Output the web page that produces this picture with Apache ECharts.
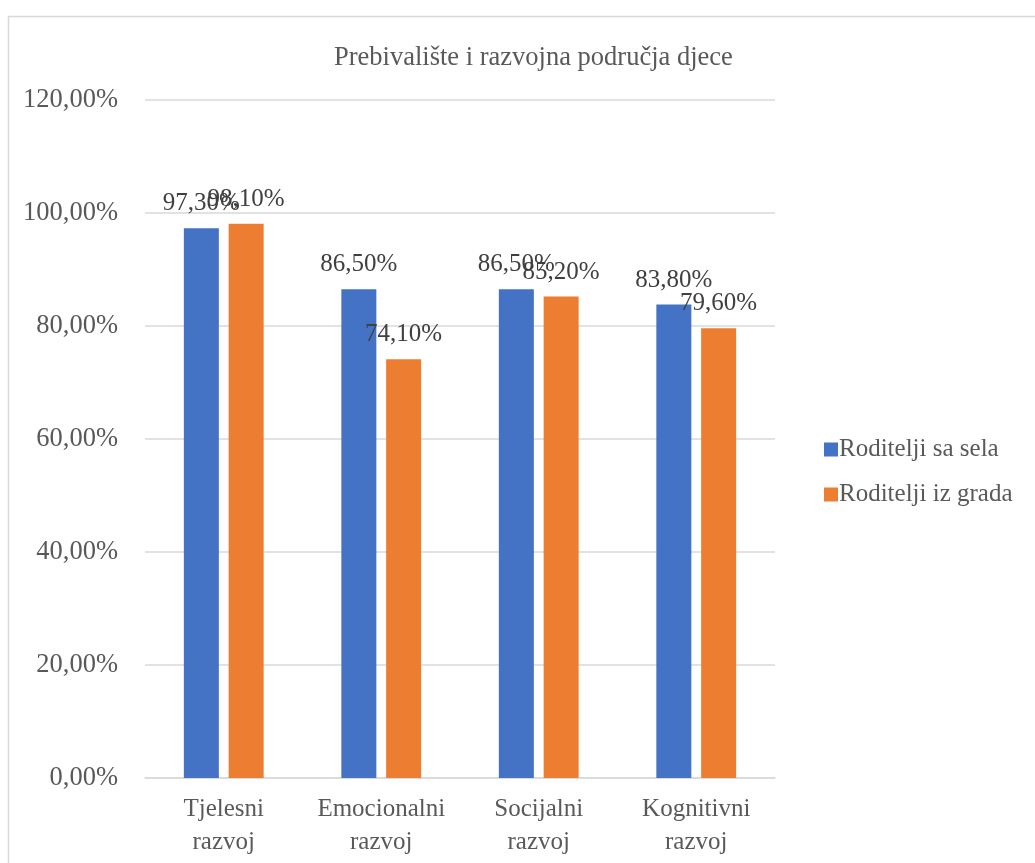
<!DOCTYPE html>
<html>
<head>
<meta charset="utf-8">
<script src="https://cdn.jsdelivr.net/npm/echarts@6/dist/echarts.min.js"></script>
<style>
html,body{margin:0;padding:0;background:#fff;}
#main{width:1035px;height:863px;}
</style>
</head>
<body>
<div id="main"></div>
<script>
var title = 'Prebivalište i razvojna područja djece';
var categories = ['Tjelesni\nrazvoj', 'Emocionalni\nrazvoj', 'Socijalni\nrazvoj', 'Kognitivni\nrazvoj'];
var seriesNames = ['Roditelji sa sela', 'Roditelji iz grada'];
var selaValues = [97.3, 86.5, 86.5, 83.8];
var gradaValues = [98.1, 74.1, 85.2, 79.6];
var yMin = 0, yMax = 120, yInterval = 20;

var FONT = '"Liberation Serif", "Times New Roman", serif';
var TXT = '#595959';
function pct(v){ return v.toFixed(2).replace('.', ',') + '%'; }

var chart = echarts.init(document.getElementById('main'));
var labelCfg = {
  show: true, position: 'top', distance: 12,
  color: '#404040', fontFamily: FONT, fontSize: 25,
  formatter: function(p){ return pct(p.value); }
};
chart.setOption({
  animation: false,
  backgroundColor: '#fff',
  graphic: [{
    type: 'rect', left: 6, top: 14, silent: true,
    shape: { width: 1100, height: 900 },
    style: { fill: 'none', stroke: '#D9D9D9', lineWidth: 1.5 }
  }],
  title: {
    text: title, left: 329, top: 40,
    textStyle: { fontFamily: FONT, fontSize: 26.5, fontWeight: 'normal', color: TXT }
  },
  legend: {
    orient: 'vertical', left: 819, top: 432,
    itemWidth: 14, itemHeight: 14, itemGap: 20,
    icon: 'rect',
    textStyle: { fontFamily: FONT, fontSize: 25, color: TXT, padding: [0,0,0,-4] },
    data: seriesNames
  },
  grid: { left: 145, right: 260, top: 100, bottom: 85, containLabel: false },
  xAxis: {
    type: 'category', data: categories,
    axisLine: { show: true, lineStyle: { color: '#D9D9D9', width: 1.5 } },
    axisTick: { show: false },
    axisLabel: { fontFamily: FONT, fontSize: 25, color: TXT, lineHeight: 33, margin: 15, interval: 0 }
  },
  yAxis: {
    type: 'value', min: yMin, max: yMax, interval: yInterval,
    axisLine: { show: false }, axisTick: { show: false },
    splitLine: { lineStyle: { color: '#D9D9D9', width: 1.5 } },
    axisLabel: { fontFamily: FONT, fontSize: 26.5, color: TXT, margin: 27,
      formatter: function(v){ return pct(v); } }
  },
  series: [
    { name: seriesNames[0], type: 'bar', data: selaValues, barWidth: 35, barGap: '28%',
      itemStyle: { color: '#4472C4' }, label: labelCfg },
    { name: seriesNames[1], type: 'bar', data: gradaValues, barWidth: 35, barGap: '28%',
      itemStyle: { color: '#ED7D31' }, label: labelCfg }
  ]
});
</script>
</body>
</html>
